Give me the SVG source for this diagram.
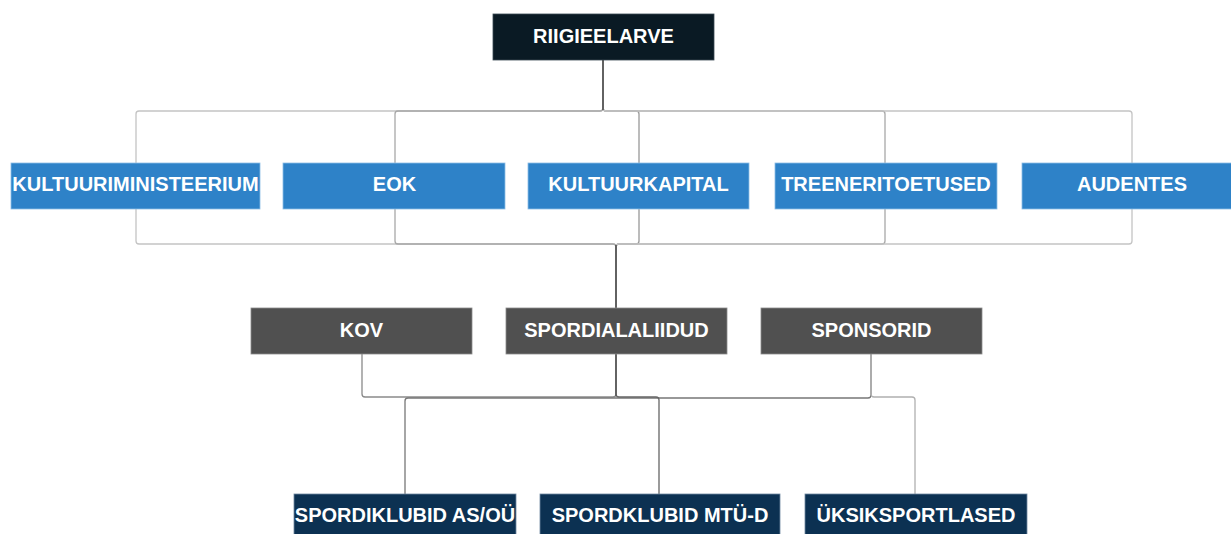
<svg xmlns="http://www.w3.org/2000/svg" width="1231" height="534" viewBox="0 0 1231 534">
<style>
.t{font-family:"Liberation Sans",Arial,sans-serif;font-weight:bold;font-size:20px;fill:#ffffff;text-anchor:middle}
.c{fill:none;stroke-width:1.3}
.top{fill:#0a1a24;stroke:#3a4a54;stroke-width:0.8}
.blue{fill:#2e82c8;stroke:#8dbde6;stroke-width:0.8}
.gray{fill:#505050;stroke:#8a8a8a;stroke-width:0.8}
.navy{fill:#0c3152;stroke:#6f88a0;stroke-width:0.8}
</style>
<rect width="1231" height="534" fill="#ffffff"/>
<g id="connectors">
<!-- RIIGIEELARVE to first row -->
<path class="c" stroke="#c4c4c4" d="M603,60 V108 Q603,111 600,111 H139 Q136,111 136,114 V163"/>
<path class="c" stroke="#a8a8a8" d="M603,60 V108 Q603,111 600,111 H398 Q395,111 395,114 V163"/>
<path class="c" stroke="#999999" d="M603,60 V108 Q603,111 606,111 H636 Q639,111 639,114 V163"/>
<path class="c" stroke="#a8a8a8" d="M603,60 V108 Q603,111 606,111 H882 Q885,111 885,114 V163"/>
<path class="c" stroke="#c4c4c4" d="M603,60 V108 Q603,111 606,111 H1129 Q1132,111 1132,114 V163"/>
<path class="c" stroke="#333333" d="M603,60 V110"/>
<!-- first row to SPORDIALALIIDUD -->
<path class="c" stroke="#c4c4c4" d="M136,209 V241 Q136,244 139,244 H613 Q616,244 616,247 V308"/>
<path class="c" stroke="#a8a8a8" d="M395,209 V241 Q395,244 398,244 H613 Q616,244 616,247 V308"/>
<path class="c" stroke="#999999" d="M639,209 V241 Q639,244 636,244 H619 Q616,244 616,247 V308"/>
<path class="c" stroke="#a8a8a8" d="M885,209 V241 Q885,244 882,244 H619 Q616,244 616,247 V308"/>
<path class="c" stroke="#c4c4c4" d="M1132,209 V241 Q1132,244 1129,244 H619 Q616,244 616,247 V308"/>
<path class="c" stroke="#333333" d="M616,245 V308"/>
<!-- second row to bottom row -->
<path class="c" stroke="#8a8a8a" d="M362,354 V394 Q362,397 365,397 H613 Q616,397 616,394 V354"/>
<path class="c" stroke="#777777" d="M405,494 V401 Q405,398 408,398 H868 Q871,398 871,395 V354"/>
<path class="c" stroke="#666666" d="M616,354 V394 Q616,397 619,397 H656 Q659,397 659,400 V494"/>
<path class="c" stroke="#b0b0b0" d="M871,354 V394 Q871,397 874,397 H912 Q915,397 915,400 V494"/>
<path class="c" stroke="#555555" d="M616,354 V396"/>
</g>
<g id="riigieelarve">
<rect class="top" x="493" y="14" width="221" height="46"/>
<text class="t" x="603.5" y="42.5">RIIGIEELARVE</text>
</g>
<g id="kultuuriministeerium">
<rect class="blue" x="11" y="163" width="249" height="46"/>
<text class="t" x="135.5" y="191">KULTUURIMINISTEERIUM</text>
</g>
<g id="eok">
<rect class="blue" x="283" y="163" width="222" height="46"/>
<text class="t" x="394.5" y="191">EOK</text>
</g>
<g id="kultuurkapital">
<rect class="blue" x="528" y="163" width="221" height="46"/>
<text class="t" x="638.5" y="191">KULTUURKAPITAL</text>
</g>
<g id="treeneritoetused">
<rect class="blue" x="775" y="163" width="222" height="46"/>
<text class="t" x="886" y="191">TREENERITOETUSED</text>
</g>
<g id="audentes">
<rect class="blue" x="1022" y="163" width="221" height="46"/>
<text class="t" x="1132" y="191">AUDENTES</text>
</g>
<g id="kov">
<rect class="gray" x="251" y="308" width="221" height="46"/>
<text class="t" x="361.5" y="337">KOV</text>
</g>
<g id="spordialaliidud">
<rect class="gray" x="506" y="308" width="221" height="46"/>
<text class="t" x="616.5" y="337">SPORDIALALIIDUD</text>
</g>
<g id="sponsorid">
<rect class="gray" x="761" y="308" width="221" height="46"/>
<text class="t" x="871.5" y="337">SPONSORID</text>
</g>
<g id="spordiklubid-as-ou">
<rect class="navy" x="294" y="494" width="222" height="46"/>
<text class="t" x="405" y="522">SPORDIKLUBID AS/OÜ</text>
</g>
<g id="spordklubid-mtu-d">
<rect class="navy" x="540" y="494" width="240" height="46"/>
<text class="t" x="660" y="522">SPORDKLUBID MTÜ-D</text>
</g>
<g id="uksiksportlased">
<rect class="navy" x="805" y="494" width="222" height="46"/>
<text class="t" x="916" y="522">ÜKSIKSPORTLASED</text>
</g>
</svg>
